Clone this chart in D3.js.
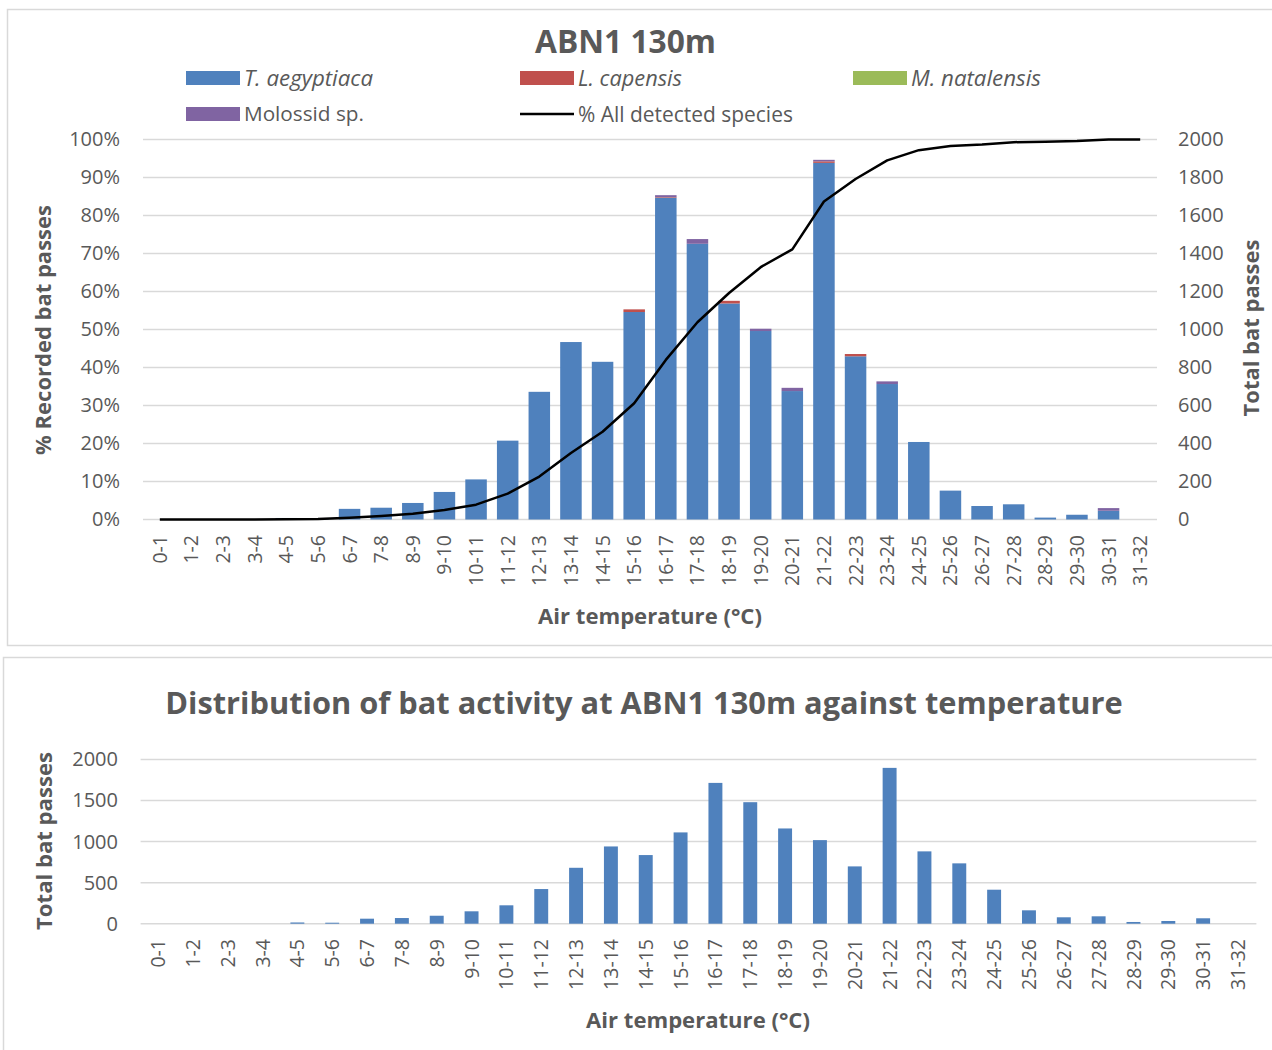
<!DOCTYPE html>
<html>
<head>
<meta charset="utf-8">
<script src="https://cdn.jsdelivr.net/npm/d3@7/dist/d3.min.js"></script>
<style>
  html, body { margin: 0; padding: 0; background: #fff; }
  svg { display: block; font-family: "Open Sans", "DejaVu Sans", sans-serif; }
</style>
</head>
<body>
<svg id="chart" width="1272" height="1050"></svg>
<script>
// ---------------- DATA ----------------
const categories = ["0-1","1-2","2-3","3-4","4-5","5-6","6-7","7-8","8-9","9-10","10-11","11-12","12-13","13-14","14-15","15-16","16-17","17-18","18-19","19-20","20-21","21-22","22-23","23-24","24-25","25-26","26-27","27-28","28-29","29-30","30-31","31-32"];

const tAegyptiaca = [0,0,0,0,8,6,56,62,87,145,211,415,672,934,830,1092,1694,1451,1137,992,676,1877,859,713,408,152,71,80,10,25,46,0];
const lCapensis   = [0,0,0,0,0,0,0,0,0,0,0,0,0,0,0,14,3,0,14,0,0,8,12,0,0,0,0,0,0,0,0,0];
const mNatalensis = [0,0,0,0,0,0,0,0,0,0,0,0,0,0,0,0,0,0,0,0,0,0,0,0,0,0,0,0,0,0,0,0];
const molossidSp  = [0,0,0,0,0,0,0,0,0,0,0,0,0,0,0,0,10,25,0,12,17,8,0,14,0,0,0,0,0,0,14,0];

// cumulative % of all detected species (left axis)
const pctAllDetected = [0,0,0,0,0.05,0.1,0.47,0.9,1.5,2.5,3.9,6.8,11.3,17.5,23.1,30.6,42.0,51.9,59.6,66.4,71.1,83.7,89.6,94.5,97.2,98.3,98.7,99.3,99.4,99.6,100,100];

// bottom chart: total bat passes
const totalPasses = [0,0,0,0,15,12,61,69,97,151,224,422,681,941,836,1112,1715,1480,1160,1018,698,1898,881,735,414,163,78,90,21,33,66,0];

const pctTicks = [0,10,20,30,40,50,60,70,80,90,100];
const countTicksTop = [0,200,400,600,800,1000,1200,1400,1600,1800,2000];
const countTicksBottom = [0,500,1000,1500,2000];

const seriesNames = ["T. aegyptiaca","L. capensis","M. natalensis","Molossid sp."];
const seriesColors = ["#4f81bd","#c0504d","#9bbb59","#8064a2"];
const lineName = "% All detected species";

// ---------------- DRAW ----------------
const svg = d3.select("#chart");
const TXT = "#595959", GRID = "#d9d9d9";
const fmtInt = d3.format("d");

function fitFont(sel, target, start) {
  sel.attr("font-size", start);
  const w = sel.node().getComputedTextLength();
  if (w > 0) sel.attr("font-size", start * target / w);
}

// panel borders
svg.append("rect").attr("x", 7.5).attr("y", 9.5).attr("width", 1280).attr("height", 636)
  .attr("fill", "#fff").attr("stroke", GRID).attr("stroke-width", 1.5);
svg.append("rect").attr("x", 3.5).attr("y", 657.5).attr("width", 1290).attr("height", 420)
  .attr("fill", "#fff").attr("stroke", GRID).attr("stroke-width", 1.5);

// ===== TOP CHART =====
const topP = {x0: 144, x1: 1156, y0: 519.5, y1: 139.5};
const xT = d3.scaleBand().domain(categories).range([topP.x0, topP.x1]).paddingInner(0.32).paddingOuter(0.16);
const yCount = d3.scaleLinear().domain([0, 2000]).range([topP.y0, topP.y1]);
const yPct = d3.scaleLinear().domain([0, 100]).range([topP.y0, topP.y1]);

const gT = svg.append("g");
gT.append("g").selectAll("line").data(pctTicks).join("line")
  .attr("x1", topP.x0 - 1).attr("x2", topP.x1 + 1)
  .attr("y1", d => yPct(d)).attr("y2", d => yPct(d))
  .attr("stroke", GRID).attr("stroke-width", 1.5);

const axL = d3.axisLeft(yPct).tickValues(pctTicks).tickFormat(d => d + "%").tickSize(0).tickPadding(0);
const gL = gT.append("g").attr("transform", `translate(120,0)`).call(axL);
gL.select(".domain").remove();
gL.selectAll("text").attr("font-size", 20).attr("fill", TXT).attr("font-family", "Open Sans");

const axR = d3.axisRight(yCount).tickValues(countTicksTop).tickFormat(fmtInt).tickSize(0).tickPadding(0);
const gR = gT.append("g").attr("transform", `translate(1178,0)`).call(axR);
gR.select(".domain").remove();
gR.selectAll("text").attr("font-size", 20).attr("fill", TXT).attr("font-family", "Open Sans");

const rows = categories.map((c, i) => ({cat: c, s0: tAegyptiaca[i], s1: lCapensis[i], s2: mNatalensis[i], s3: molossidSp[i]}));
const stack = d3.stack().keys(["s0","s1","s2","s3"])(rows);
gT.append("g").selectAll("g").data(stack).join("g")
  .attr("fill", (d, i) => seriesColors[i])
  .selectAll("rect").data(d => d).join("rect")
  .attr("x", d => xT(d.data.cat))
  .attr("width", xT.bandwidth())
  .attr("y", d => yCount(d[1]))
  .attr("height", d => Math.max(0, yCount(d[0]) - yCount(d[1])));

const line = d3.line().x((d, i) => xT(categories[i]) + xT.bandwidth() / 2).y(d => yPct(d));
gT.append("path").datum(pctAllDetected).attr("d", line)
  .attr("fill", "none").attr("stroke", "#000").attr("stroke-width", 2.5).attr("stroke-linejoin", "round");

const axBT = d3.axisBottom(xT).tickSize(0).tickPadding(0);
const gBT = gT.append("g").call(axBT);
gBT.select(".domain").remove();
gBT.selectAll(".tick").attr("transform", d => `translate(${xT(d) + xT.bandwidth() / 2},535)`);
gBT.selectAll("text").attr("transform", "rotate(-90)").attr("text-anchor", "end")
  .attr("x", 0).attr("y", 0).attr("dy", "0.36em")
  .attr("font-size", 19.5).attr("fill", TXT).attr("font-family", "Open Sans");

const t1 = svg.append("text").attr("x", 625.5).attr("y", 53).attr("text-anchor", "middle")
  .attr("font-weight", 700).attr("fill", TXT).text("ABN1 130m");
fitFont(t1, 181, 32);

const xt1 = svg.append("text").attr("x", 650).attr("y", 624).attr("text-anchor", "middle")
  .attr("font-weight", 700).attr("fill", TXT).text("Air temperature (°C)");
fitFont(xt1, 224, 21);

const yl1 = svg.append("text").attr("transform", "translate(51,330) rotate(-90)").attr("text-anchor", "middle")
  .attr("font-weight", 700).attr("fill", TXT).text("% Recorded bat passes");
fitFont(yl1, 250, 21);

const yr1 = svg.append("text").attr("transform", "translate(1259,328) rotate(-90)").attr("text-anchor", "middle")
  .attr("font-weight", 700).attr("fill", TXT).text("Total bat passes");
fitFont(yr1, 177, 21);

const legendItems = [
  {name: seriesNames[0], color: seriesColors[0], x: 186, y: 78, italic: true, type: "rect", w: 129},
  {name: seriesNames[1], color: seriesColors[1], x: 520, y: 78, italic: true, type: "rect", w: 104},
  {name: seriesNames[2], color: seriesColors[2], x: 853, y: 78, italic: true, type: "rect", w: 130},
  {name: seriesNames[3], color: seriesColors[3], x: 186, y: 114, italic: false, type: "rect", w: 120},
  {name: lineName, color: "#000", x: 520, y: 114, italic: false, type: "line", w: 215}
];
const lg = svg.append("g");
legendItems.forEach(it => {
  if (it.type === "rect") {
    lg.append("rect").attr("x", it.x).attr("y", it.y - 7).attr("width", 54).attr("height", 14).attr("fill", it.color);
  } else {
    lg.append("line").attr("x1", it.x).attr("x2", it.x + 54).attr("y1", it.y).attr("y2", it.y)
      .attr("stroke", it.color).attr("stroke-width", 2.5);
  }
  const t = lg.append("text").attr("x", it.x + 58).attr("y", it.y).attr("dy", "0.36em")
    .attr("fill", TXT).attr("font-style", it.italic ? "italic" : "normal")
    .text(it.name);
  fitFont(t, it.w, 20);
});

// ===== BOTTOM CHART =====
const botP = {x0: 140.6, x1: 1255.4, y0: 923.7, y1: 759.5};
const xB = d3.scaleBand().domain(categories).range([botP.x0, botP.x1]).paddingInner(0.6).paddingOuter(0.3);
const yB = d3.scaleLinear().domain([0, 2000]).range([botP.y0, botP.y1]);
const gB = svg.append("g");

gB.append("g").selectAll("line").data(countTicksBottom).join("line")
  .attr("x1", botP.x0).attr("x2", botP.x1 + 1)
  .attr("y1", d => yB(d)).attr("y2", d => yB(d))
  .attr("stroke", GRID).attr("stroke-width", 1.5);

const axLB = d3.axisLeft(yB).tickValues(countTicksBottom).tickFormat(fmtInt).tickSize(0).tickPadding(0);
const gLB = gB.append("g").attr("transform", `translate(118,0)`).call(axLB);
gLB.select(".domain").remove();
gLB.selectAll("text").attr("font-size", 20).attr("fill", TXT).attr("font-family", "Open Sans");

gB.append("g").selectAll("rect").data(categories.map((c, i) => ({cat: c, v: totalPasses[i]}))).join("rect")
  .attr("x", d => xB(d.cat)).attr("width", xB.bandwidth())
  .attr("y", d => yB(d.v)).attr("height", d => yB(0) - yB(d.v))
  .attr("fill", seriesColors[0]);

const axBB = d3.axisBottom(xB).tickSize(0).tickPadding(0);
const gBB = gB.append("g").call(axBB);
gBB.select(".domain").remove();
gBB.selectAll(".tick").attr("transform", d => `translate(${xB(d) + xB.bandwidth() / 2},939)`);
gBB.selectAll("text").attr("transform", "rotate(-90)").attr("text-anchor", "end")
  .attr("x", 0).attr("y", 0).attr("dy", "0.36em")
  .attr("font-size", 19.5).attr("fill", TXT).attr("font-family", "Open Sans");

const t2 = svg.append("text").attr("x", 644).attr("y", 714).attr("text-anchor", "middle")
  .attr("font-weight", 700).attr("fill", TXT).text("Distribution of bat activity at ABN1 130m against temperature");
fitFont(t2, 958, 30);

const xt2 = svg.append("text").attr("x", 698).attr("y", 1028).attr("text-anchor", "middle")
  .attr("font-weight", 700).attr("fill", TXT).text("Air temperature (°C)");
fitFont(xt2, 224, 21);

const yl2 = svg.append("text").attr("transform", "translate(52,841) rotate(-90)").attr("text-anchor", "middle")
  .attr("font-weight", 700).attr("fill", TXT).text("Total bat passes");
fitFont(yl2, 178, 21);
</script>
</body>
</html>
